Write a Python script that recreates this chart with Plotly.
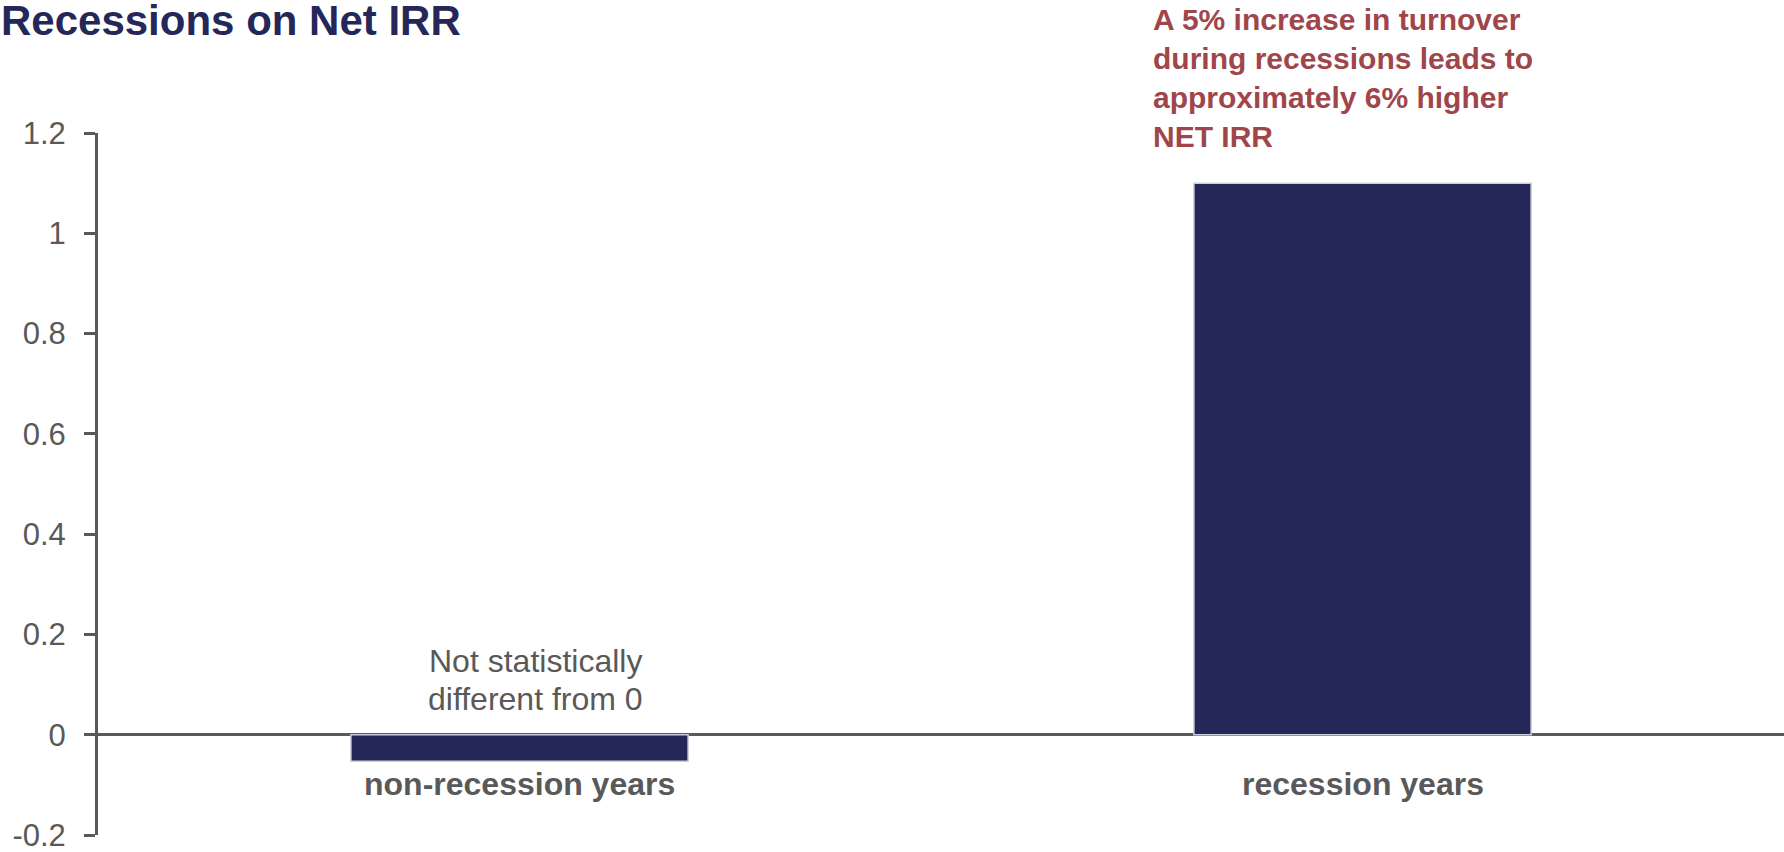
import plotly.graph_objects as go

# Estimated effect of a 5% turnover increase on Net IRR, by period
categories = ["non-recession years", "recession years"]
irr_effect = [-0.053, 1.1]

y_tick_values = [1.2, 1.0, 0.8, 0.6, 0.4, 0.2, 0.0, -0.2]
y_tick_labels = ["1.2", "1", "0.8", "0.6", "0.4", "0.2", "0", "-0.2"]

note_lines = ["Not statistically", "different from 0"]
headline = ["A 5% increase in turnover", "during recessions leads to",
            "approximately 6% higher", "NET IRR"]

NAVY = "#262759"
GREY = "#595959"
RED = "#a0464b"
FONT = "Liberation Sans, Arial, sans-serif"

fig = go.Figure(
    go.Bar(
        x=categories,
        y=irr_effect,
        width=0.4,
        marker=dict(color=NAVY, line=dict(color="#c9cfdd", width=1.5)),
        hoverinfo="x+y",
    )
)

# Category names sit just under the zero line
for cat in categories:
    fig.add_annotation(
        x=cat, y=0, xref="x", yref="y",
        text=f"<b>{cat}</b>", showarrow=False,
        yanchor="middle", yshift=-49,
        font=dict(family=FONT, size=32, color=GREY),
    )

# Two-line note above the small bar, lines set a little tighter than default
for i, line in enumerate(note_lines):
    fig.add_annotation(
        x=categories[0], y=0, xref="x", yref="y",
        text=line, showarrow=False,
        xanchor="center", yanchor="middle",
        xshift=16, yshift=74 - 38 * i,
        font=dict(family=FONT, size=32, color=GREY),
    )

fig.add_annotation(
    x=0.6246, y=1.078, xref="paper", yref="paper",
    text="<b>" + "<br>".join(headline) + "</b>",
    showarrow=False, align="left",
    xanchor="left", yanchor="middle",
    font=dict(family=FONT, size=30, color=RED),
)

fig.update_layout(
    width=1784, height=852,
    margin=dict(l=98, r=0, t=133, b=17, autoexpand=False),
    paper_bgcolor="white", plot_bgcolor="white",
    showlegend=False,
    title=dict(
        text="<b>Recessions on Net IRR</b>",
        x=1 / 1784, xref="container", xanchor="left",
        y=1 - 20 / 852, yref="container", yanchor="middle",
        font=dict(family=FONT, size=42, color=NAVY),
    ),
    xaxis=dict(
        type="category", range=[-0.5, 1.5],
        showticklabels=False, showgrid=False, showline=False, ticks="",
        fixedrange=True,
    ),
    yaxis=dict(
        range=[-0.2, 1.2],
        tickvals=y_tick_values, ticktext=y_tick_labels,
        showgrid=False, automargin=False,
        showline=True, linecolor=GREY, linewidth=3,
        ticks="outside", ticklen=11, tickwidth=3, tickcolor=GREY,
        ticklabelstandoff=12, ticklabeloverflow="allow",
        zeroline=True, zerolinecolor=GREY, zerolinewidth=3,
        tickfont=dict(family=FONT, size=31, color=GREY),
        fixedrange=True,
    ),
)

fig.write_html("out.html")
